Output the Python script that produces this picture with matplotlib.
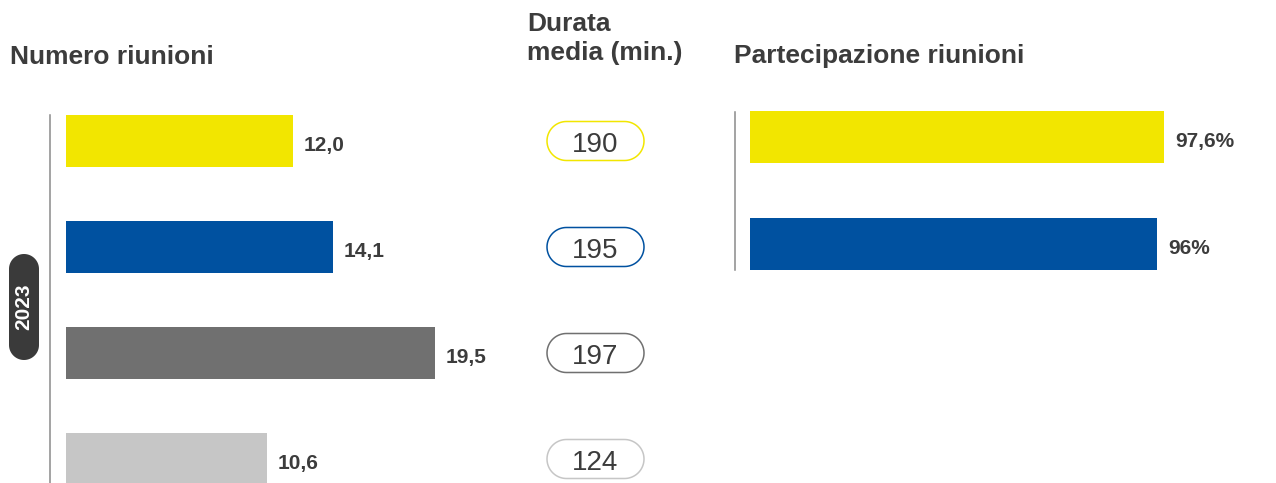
import numpy as np
import matplotlib.pyplot as plt
from matplotlib.patches import PathPatch
from matplotlib.path import Path

plt.rcParams['font.family'] = ['Liberation Sans', 'DejaVu Sans']

# data
num_riunioni = [12.0, 14.1, 19.5, 10.6]
num_labels = ['12,0', '14,1', '19,5', '10,6']
durata_media = [190, 195, 197, 124]
partecipazione = [97.6, 96.0]
part_labels = ['97,6%', '96%']
colors = ['#F2E600', '#0051A0', '#707070', '#C6C6C6']
year = '2023'

TXT = '#3c3c3c'
W, H = 1276, 483


def px_axes(fig, x0, y0, x1, y1):
    # axes from pixel box (top-left origin)
    return fig.add_axes([x0 / W, 1 - y1 / H, (x1 - x0) / W, (y1 - y0) / H])


def pill_path(cx, cy, w, h, vertical=False):
    # capsule outline with true semicircle ends (needs equal aspect)
    # w, h are the real width/height; vertical builds it lying down then flips
    if vertical:
        w, h = h, w
    r = h / 2
    t = np.linspace(-np.pi / 2, np.pi / 2, 40)
    right = np.column_stack([w / 2 - r + r * np.cos(t), r * np.sin(t)])
    t2 = np.linspace(np.pi / 2, 3 * np.pi / 2, 40)
    left = np.column_stack([-w / 2 + r + r * np.cos(t2), r * np.sin(t2)])
    verts = np.vstack([right, left, right[:1]])
    if vertical:
        verts = verts[:, ::-1]
    verts = verts + [cx, cy]
    codes = [Path.MOVETO] + [Path.LINETO] * (len(verts) - 2) + [Path.CLOSEPOLY]
    return Path(verts, codes)


fig = plt.figure(figsize=(W / 100, H / 100), dpi=100)

# titles
fig.text(10 / W, 1 - 64 / H, 'Numero riunioni', fontsize=19, fontweight='bold',
         color=TXT, va='baseline')
fig.text(527 / W, 1 - 31 / H, 'Durata', fontsize=19, fontweight='bold',
         color=TXT, va='baseline')
fig.text(527 / W, 1 - 60 / H, 'media (min.)', fontsize=19, fontweight='bold',
         color=TXT, va='baseline')
fig.text(734 / W, 1 - 63 / H, 'Partecipazione riunioni', fontsize=19,
         fontweight='bold', color=TXT, va='baseline')

# left panel - numero riunioni
ax1 = px_axes(fig, 50, 88, 500, 483)
scale1 = 227 / 12.0
ax1.set_xlim(-16 / scale1, (500 - 66) / scale1)
ax1.set_ylim((483 - 141) / 106, (88 - 141) / 106)
ypos = range(len(num_riunioni))
ax1.barh(ypos, num_riunioni, height=52 / 106, color=colors)
for i, (v, lab) in enumerate(zip(num_riunioni, num_labels)):
    ax1.annotate(lab, (v, i), xytext=(8, -7), textcoords='offset points',
                 fontsize=15, fontweight='bold', color=TXT,
                 va='baseline', ha='left', annotation_clip=False)
for s in ['top', 'right', 'bottom']:
    ax1.spines[s].set_visible(False)
ax1.spines['left'].set_color('#8a8a8a')
ax1.spines['left'].set_linewidth(1.1)
ax1.spines['left'].set_bounds(-0.245, (483 - 141) / 106)
ax1.set_xticks([])
ax1.set_yticks([])
ax1.patch.set_alpha(0)

# middle - durata media pills (1 data unit = 106 px on both axes)
ax2 = px_axes(fig, 520, 88, 670, 483)
ax2.set_xlim(0, 150 / 106)
ax2.set_ylim(ax1.get_ylim())
ax2.axis('off')
pw, ph = 97 / 106, 39 / 106
cx = 75.5 / 106
for i, (v, c) in enumerate(zip(durata_media, colors)):
    ax2.add_patch(PathPatch(pill_path(cx, i, pw, ph), facecolor='white',
                            edgecolor=c, linewidth=1.1))
    ax2.annotate(str(v), (cx, i), xytext=(0, -8), textcoords='offset points',
                 fontsize=20, color=TXT, ha='center', va='baseline')

# right panel - partecipazione
ax3 = px_axes(fig, 735, 88, 1276, 483)
scale3 = 414 / 97.6
ax3.set_xlim(-15 / scale3, (1276 - 750) / scale3)
ax3.set_ylim((483 - 137) / 107, (88 - 137) / 107)
ax3.barh(range(len(partecipazione)), partecipazione, height=52 / 107,
         color=colors[:2])
for i, (v, lab) in enumerate(zip(partecipazione, part_labels)):
    ax3.annotate(lab, (v, i), xytext=(8, -7), textcoords='offset points',
                 fontsize=15, fontweight='bold', color=TXT,
                 va='baseline', ha='left', annotation_clip=False)
for s in ['top', 'right', 'bottom']:
    ax3.spines[s].set_visible(False)
ax3.spines['left'].set_color('#8a8a8a')
ax3.spines['left'].set_linewidth(1.1)
ax3.spines['left'].set_bounds((112 - 137) / 107, (270 - 137) / 107)
ax3.set_xticks([])
ax3.set_yticks([])
ax3.patch.set_alpha(0)

# year pill (axes in pixel units)
ax4 = px_axes(fig, 9, 254, 39, 360)
ax4.set_xlim(0, 30)
ax4.set_ylim(0, 106)
ax4.axis('off')
ax4.add_patch(PathPatch(pill_path(15, 53, 30, 106, vertical=True),
                        facecolor='#3a3a3a', edgecolor='none', clip_on=False))
ax4.text(15, 53, year, rotation=90, fontsize=15, fontweight='bold',
         color='white', ha='center', va='center')

fig.savefig('out.png', dpi=100)
